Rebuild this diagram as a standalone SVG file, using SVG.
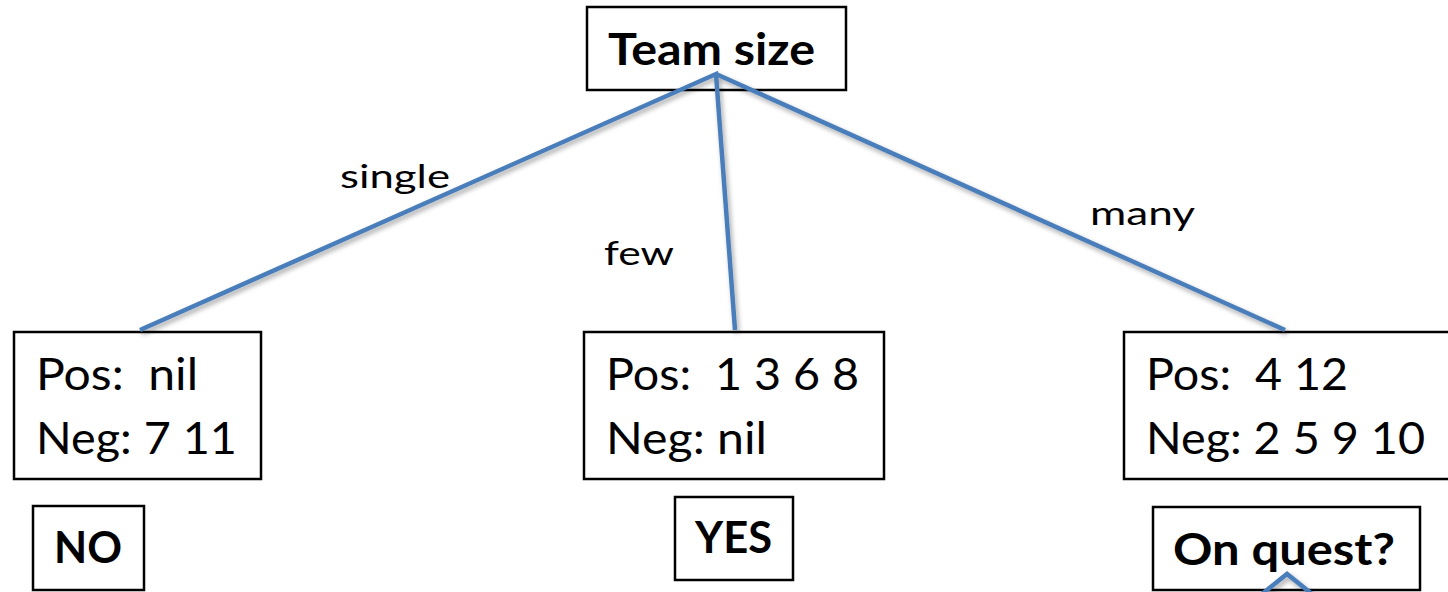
<svg xmlns="http://www.w3.org/2000/svg" width="1448" height="592" viewBox="0 0 1448 592">
  <defs>
    <style>
      .box { fill: #ffffff; stroke: #000000; stroke-width: 2.5; }
      .edge { fill: none; stroke: #4a7ebb; stroke-width: 4.5; stroke-linecap: butt; stroke-linejoin: miter; }
      .txt { font-family: Lato, "Open Sans", "Liberation Sans", sans-serif; fill: #000000; white-space: pre; }
      .big { font-size: 44px; }
      .bold { font-size: 44px; font-weight: bold; }
      .lbl { font-size: 33px; }
    </style>
    <filter id="shadow" x="-10%" y="-10%" width="120%" height="130%">
      <feGaussianBlur in="SourceAlpha" stdDeviation="2.5"/>
      <feOffset dx="2" dy="3" result="blur"/>
      <feComponentTransfer><feFuncA type="linear" slope="0.35"/></feComponentTransfer>
      <feMerge><feMergeNode/><feMergeNode in="SourceGraphic"/></feMerge>
    </filter>
  </defs>

  <rect width="1448" height="592" fill="#ffffff"/>

  <!-- root test -->
  <g id="node-team-size">
    <rect class="box" x="587" y="7" width="259" height="83"/>
    <text class="txt bold" x="608" y="65" textLength="207" lengthAdjust="spacingAndGlyphs">Team size</text>
  </g>

  <g id="edge-labels">
    <text class="txt lbl" x="340" y="188" textLength="110" lengthAdjust="spacingAndGlyphs">single</text>
    <text class="txt lbl" x="604" y="265" textLength="70" lengthAdjust="spacingAndGlyphs">few</text>
    <text class="txt lbl" x="1090" y="225" textLength="105" lengthAdjust="spacingAndGlyphs">many</text>
  </g>

  <!-- leaf sets -->
  <g id="node-single">
    <rect class="box" x="14" y="332" width="247" height="147"/>
    <text class="txt big" x="36" y="390" xml:space="preserve" textLength="162" lengthAdjust="spacingAndGlyphs">Pos:  nil</text>
    <text class="txt big" x="36" y="454" textLength="201" lengthAdjust="spacingAndGlyphs">Neg: 7 11</text>
  </g>

  <g id="node-few">
    <rect class="box" x="584" y="332" width="300" height="147"/>
    <text class="txt big" x="606" y="390" xml:space="preserve" textLength="253" lengthAdjust="spacingAndGlyphs">Pos:  1 3 6 8</text>
    <text class="txt big" x="606" y="454" textLength="161" lengthAdjust="spacingAndGlyphs">Neg: nil</text>
  </g>

  <g id="node-many">
    <rect class="box" x="1124" y="332" width="330" height="147"/>
    <text class="txt big" x="1146" y="390" xml:space="preserve" textLength="202" lengthAdjust="spacingAndGlyphs">Pos:  4 12</text>
    <text class="txt big" x="1146" y="454" textLength="279" lengthAdjust="spacingAndGlyphs">Neg: 2 5 9 10</text>
  </g>

  <!-- outcomes -->
  <g id="node-no">
    <rect class="box" x="33" y="506" width="111" height="84"/>
    <text class="txt bold" x="54" y="563" textLength="68" lengthAdjust="spacingAndGlyphs">NO</text>
  </g>

  <g id="node-yes">
    <rect class="box" x="675" y="497" width="118" height="83"/>
    <text class="txt bold" x="695" y="553" textLength="77" lengthAdjust="spacingAndGlyphs">YES</text>
  </g>

  <g id="node-on-quest">
    <rect class="box" x="1153" y="507" width="267" height="83"/>
    <text class="txt bold" x="1173" y="565" textLength="222" lengthAdjust="spacingAndGlyphs">On quest?</text>
  </g>

  <!-- branches, drawn over the boxes -->
  <g id="connectors" filter="url(#shadow)">
    <path class="edge" d="M140,330 L716,74 L735,330"/>
    <path class="edge" d="M716,74 L1285,330"/>
    <path class="edge" d="M1262,594 L1287,574 L1312,594"/>
  </g>
</svg>
